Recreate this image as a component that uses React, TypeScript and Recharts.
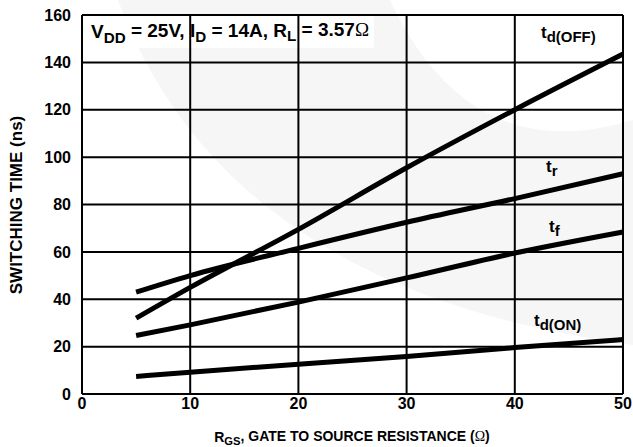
import React from 'react';
import { LineChart, Line, XAxis, YAxis, CartesianGrid, Label } from 'recharts';

const rgs = [5, 10, 20, 30, 40, 50];
const tdOff = [32, 45, 69.5, 95.5, 120, 143.5];
const tr = [43, 50, 61.5, 72.5, 82.5, 93];
const tf = [24.7, 29.2, 38.8, 49, 59.5, 68.4];
const tdOn = [7.4, 9.2, 12.6, 15.8, 19.6, 23];

const xTicks = [0, 10, 20, 30, 40, 50];
const yTicks = [0, 20, 40, 60, 80, 100, 120, 140, 160];

const data = rgs.map((r, i) => ({ r, tdOff: tdOff[i], tr: tr[i], tf: tf[i], tdOn: tdOn[i] }));

const FONT = '"Liberation Sans", Arial, Helvetica, sans-serif';
const tickStyle = { fill: '#000', fontSize: 16, fontWeight: 700, fontFamily: FONT };

const Sub = ({ children, size = '0.8em' }: { children: React.ReactNode; size?: string }) => (
  <tspan fontSize={size} dy="0.3em">{children}</tspan>
);

export default function App() {
  return (
    <div style={{ position: 'absolute', left: 0, top: 0, width: 633, height: 447, background: '#fff' }}>
      {/* faint watermark + white box behind the condition text */}
      <svg width={633} height={447} style={{ position: 'absolute', left: 0, top: 0 }}>
        <path d="M118 0 Q225 290 633 345 L633 120 Q470 170 390 0 Z" fill="#f6f6f6" />
        <rect x={84} y={16} width={290} height={32} fill="#fff" />
        <text x={91} y={38} fontFamily={FONT} fontWeight={700} fontSize={19} fill="#000">
          V<Sub>DD</Sub><tspan dy="-0.27em"> = 25V, I</tspan><Sub>D</Sub>
          <tspan dy="-0.27em"> = 14A, R</tspan><Sub>L</Sub>
          <tspan dy="-0.27em"> = 3.57</tspan>
          <tspan fontWeight={400} fontFamily='"Liberation Serif", serif'>Ω</tspan>
        </text>
      </svg>
      <div style={{ position: 'absolute', left: 0, top: 0 }}>
        <LineChart width={633} height={447} data={data} margin={{ top: 15, right: 10, bottom: 0, left: 0 }}>
          <CartesianGrid stroke="#000" strokeWidth={2} />
          <XAxis
            type="number"
            dataKey="r"
            domain={[0, 50]}
            ticks={xTicks}
            height={53}
            axisLine={false}
            tickLine={false}
            tickSize={0}
            tickMargin={4}
            tick={tickStyle}
            interval={0}
          >
            <Label
              position="insideBottom"
              offset={0}
              content={() => (
                <text x={352} y={442} textAnchor="middle" fontFamily={FONT} fontWeight={700} fontSize={14} fill="#000">
                  R<Sub>GS</Sub><tspan dy="-0.3em">, GATE TO SOURCE RESISTANCE (</tspan>
                  <tspan fontWeight={400} fontFamily='"Liberation Serif", serif'>Ω</tspan>)
                </text>
              )}
            />
          </XAxis>
          <YAxis
            type="number"
            domain={[0, 160]}
            ticks={yTicks}
            width={82}
            axisLine={false}
            tickLine={false}
            tickSize={0}
            tickMargin={11}
            tick={tickStyle}
            interval={0}
          >
            <Label
              angle={-90}
              position="insideLeft"
              content={() => (
                <text
                  x={22}
                  y={205}
                  transform="rotate(-90 22 205)"
                  textAnchor="middle"
                  fontFamily={FONT}
                  fontWeight={700}
                  fontSize={17}
                  fill="#000"
                >
                  SWITCHING TIME (ns)
                </text>
              )}
            />
          </YAxis>
          <Line type="monotone" dataKey="tdOff" stroke="#000" strokeWidth={5} dot={false} isAnimationActive={false} />
          <Line type="monotone" dataKey="tr" stroke="#000" strokeWidth={5} dot={false} isAnimationActive={false} />
          <Line type="monotone" dataKey="tf" stroke="#000" strokeWidth={5} dot={false} isAnimationActive={false} />
          <Line type="monotone" dataKey="tdOn" stroke="#000" strokeWidth={5} dot={false} isAnimationActive={false} />
        </LineChart>
      </div>
      {/* curve labels */}
      <svg width={633} height={447} style={{ position: 'absolute', left: 0, top: 0, pointerEvents: 'none' }}>
        <g fontFamily={FONT} fontWeight={700} fontSize={17} fill="#000">
          <text x={541} y={38}>t<Sub size="0.88em">d(OFF)</Sub></text>
          <text x={546} y={172}>t<Sub size="0.88em">r</Sub></text>
          <text x={549} y={232}>t<Sub size="0.88em">f</Sub></text>
          <text x={534} y={326}>t<Sub size="0.88em">d(ON)</Sub></text>
        </g>
      </svg>
    </div>
  );
}
